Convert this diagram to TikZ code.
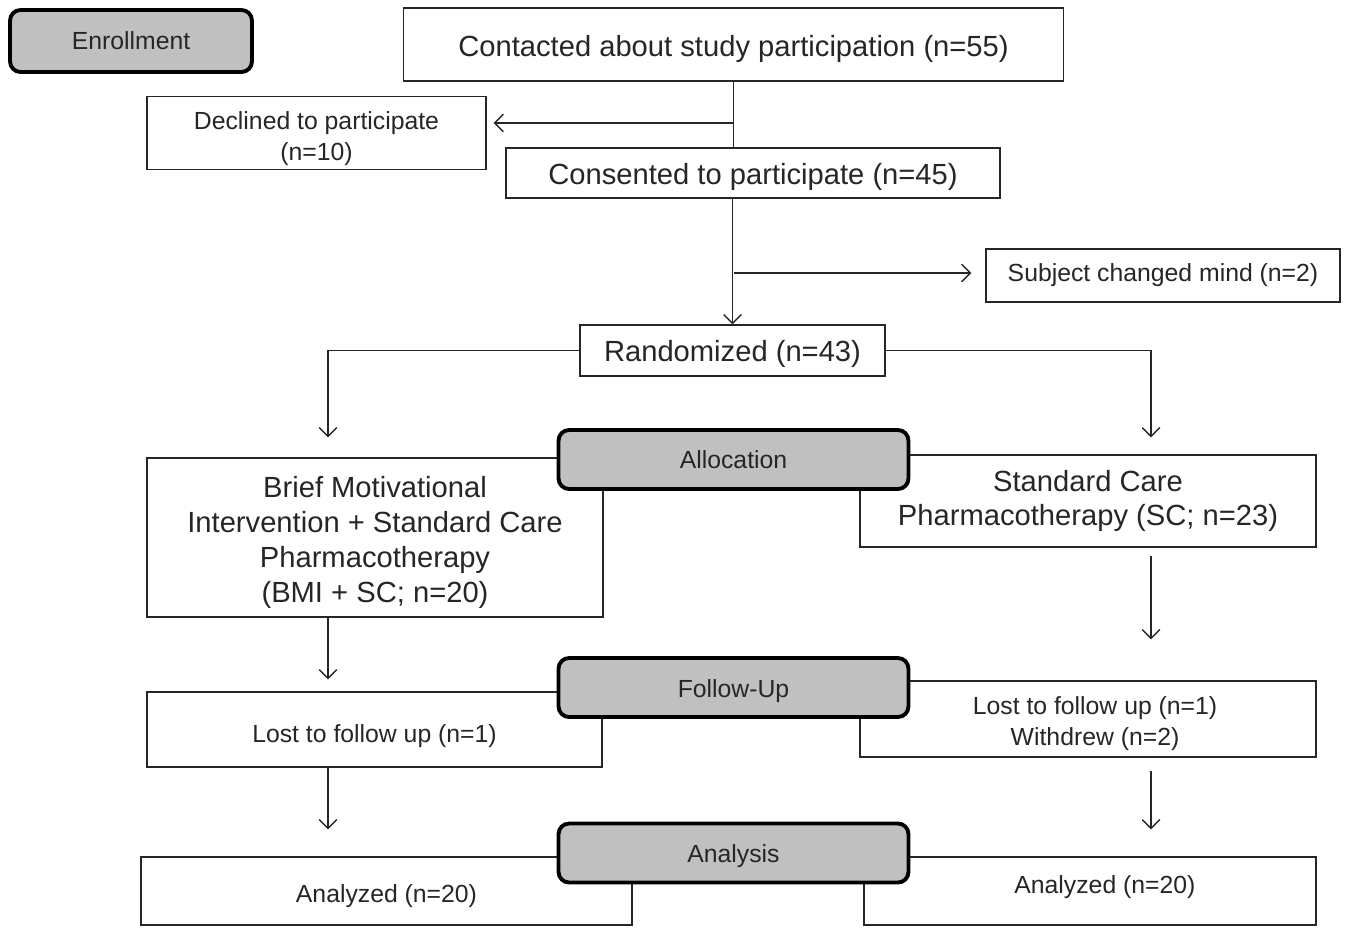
\documentclass[tikz,border=0pt]{standalone}
\usepackage{fontspec}
\setmainfont{Liberation Sans}
\usetikzlibrary{arrows.meta,positioning,calc}
\definecolor{stage}{HTML}{C0C0C0}
\definecolor{ink}{HTML}{262626}
\newcommand{\topgap}[1]{\rule{0pt}{#1}}

\begin{document}
\begin{tikzpicture}[x=0.02cm,y=-0.02cm,
  box/.style={draw=ink,fill=white,line width=0.8pt,inner sep=2pt,align=center,
              text=ink},
  big/.style={font=\fontsize{16.6}{19.8}\selectfont},
  small/.style={font=\fontsize{14.1}{17.6}\selectfont},
  textdrop/.style={execute at begin node={\rule{0pt}{#1}}},
  stagebox/.style={draw=black,fill=stage,line width=2.2pt,rounded corners=6pt,
              minimum width=7.0cm,minimum height=1.18cm,text=ink,
              font=\fontsize{14.1}{17.6}\selectfont},
  flow/.style={ink,line width=0.8pt,-{Straight Barb[length=5pt,width=10pt]}},
  link/.style={ink,line width=0.8pt}
]
  \useasboundingbox (0,0) rectangle (1345,927);

  % Boxes of the flow
  \node[box,big,textdrop=16.6pt,minimum width=13.2cm,minimum height=1.46cm] (contact) at (733.5,44.5)
    {Contacted about study participation (n=55)};
  \node[box,small,minimum width=6.78cm,minimum height=1.44cm] (declined) at (316.5,133)
    {\topgap{16.9pt}Declined to participate\\(n=10)};
  \node[box,big,textdrop=16.6pt,minimum width=9.88cm,minimum height=1.0cm] (consent) at (753,173)
    {Consented to participate (n=45)};
  \node[box,small,minimum width=7.08cm,minimum height=1.06cm] (changed) at (1163,275.5)
    {Subject changed mind (n=2)};
  \node[box,big,textdrop=15.5pt,minimum width=6.1cm,minimum height=1.02cm] (rand) at (732.5,350.5)
    {Randomized (n=43)};
  \node[box,big,minimum width=9.12cm,minimum height=3.18cm] (bmi) at (375,537.5)
    {\topgap{17.8pt}Brief Motivational\\Intervention + Standard Care\\Pharmacotherapy\\(BMI + SC; n=20)};
  \node[box,big,minimum width=9.12cm,minimum height=1.84cm] (sc) at (1088,501)
    {Standard Care\\Pharmacotherapy (SC; n=23)};
  \node[box,small,textdrop=18.2pt,minimum width=9.1cm,minimum height=1.5cm] (lostl) at (374.5,729.5)
    {Lost to follow up (n=1)};
  \node[box,small,minimum width=9.12cm,minimum height=1.52cm] (lostr) at (1088,719)
    {\topgap{15.4pt}\hspace*{8pt}Lost to follow up (n=1)\\\hspace*{8pt}Withdrew (n=2)};
  \node[box,small,textdrop=16pt,minimum width=9.82cm,minimum height=1.36cm] (anl) at (386.5,891)
    {Analyzed (n=20)};
  \node[box,small,minimum width=9.04cm,minimum height=1.36cm,
        execute at begin node={\hspace*{17pt}\rule[-7.6pt]{0pt}{7.6pt}}] (anr) at (1090,891)
    {Analyzed (n=20)};

  % Stage labels
  \node[stagebox,minimum width=4.84cm,minimum height=1.24cm] (enrol) at (131,41) {Enrollment};
  \node[stagebox] (alloc) at (733.5,459.5) {Allocation};
  \node[stagebox,textdrop=14.8pt] (follow) at (733.5,687.5) {Follow-Up};
  \node[stagebox,textdrop=13.7pt] (analysis) at (733.5,853) {Analysis};

  % Column guides
  \coordinate (lcol) at (328,0);
  \coordinate (rcol) at (1151,0);
  \coordinate (j1) at (734,123);
  \coordinate (j2) at (734,273);

  % Enrollment branch
  \draw[link] (contact.south) -- (contact.south |- consent.north);
  \draw[flow,shorten >=0.14cm] (j1) -- (j1 -| declined.east);
  \draw[flow] (rand.north |- consent.south) -- (rand.north);
  \draw[flow,shorten >=0.28cm] (j2) -- (j2 -| changed.west);

  % Allocation arms
  \draw[flow,shorten >=0.4cm] (rand.west) -| (lcol |- bmi.north);
  \draw[flow,shorten >=0.34cm] (rand.east) -| (rcol |- sc.north);

  % Follow-up and analysis
  \draw[flow,shorten >=0.24cm] (lcol |- bmi.south) -- (lcol |- lostl.north);
  \draw[flow,shorten <=0.16cm,shorten >=0.82cm] (rcol |- sc.south) -- (rcol |- lostr.north);
  \draw[flow,shorten >=0.54cm] (lcol |- lostl.south) -- (lcol |- anl.north);
  \draw[flow,shorten <=0.26cm,shorten >=0.54cm] (rcol |- lostr.south) -- (rcol |- anr.north);
\end{tikzpicture}
\end{document}
